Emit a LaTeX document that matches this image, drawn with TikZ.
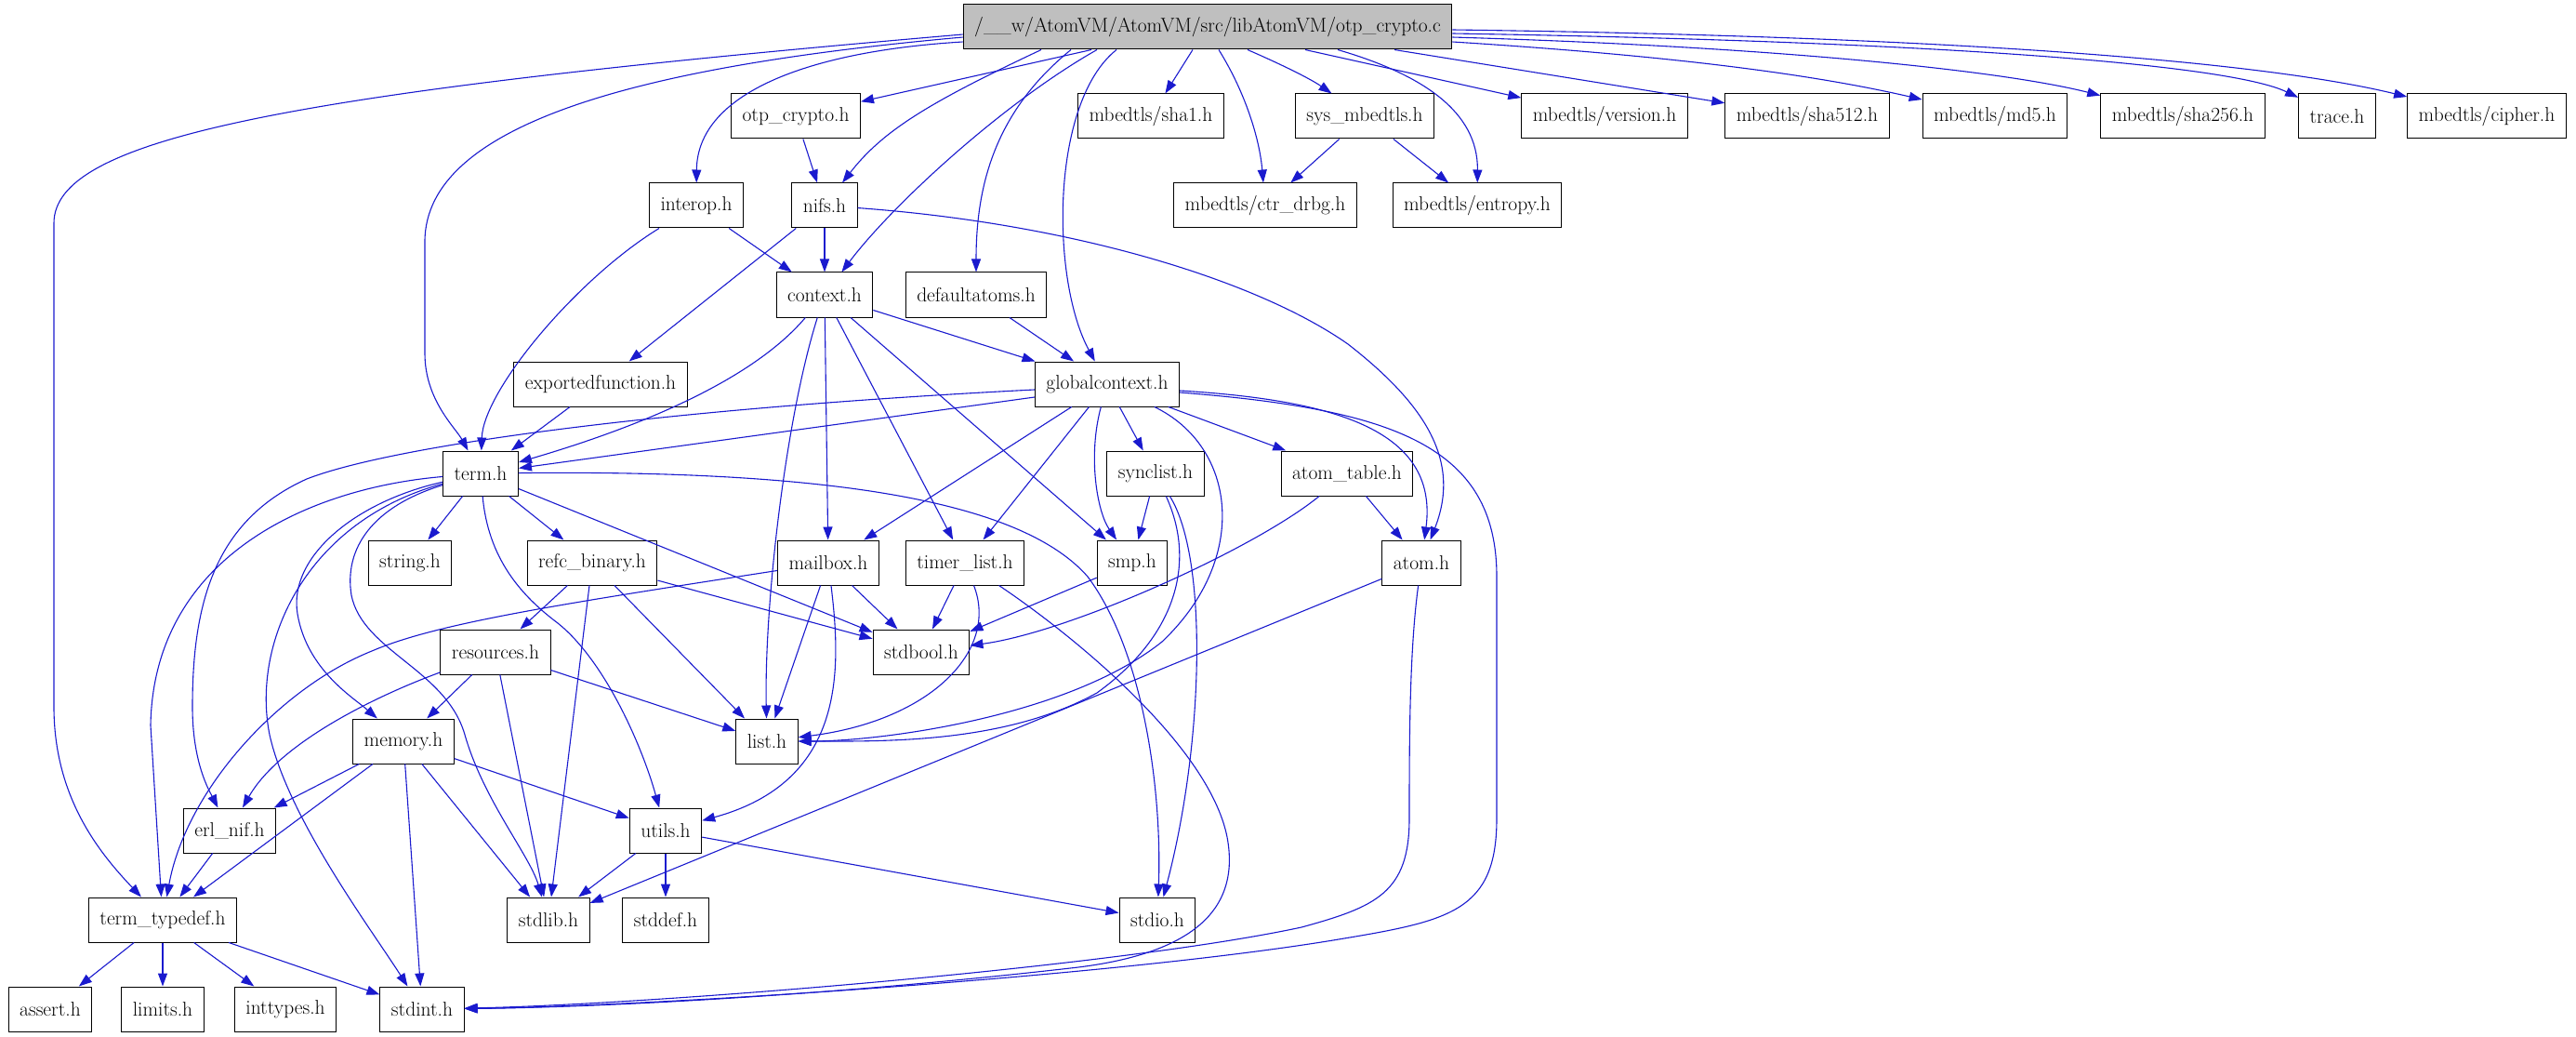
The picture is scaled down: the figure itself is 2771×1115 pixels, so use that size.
\documentclass[tikz,border=0pt]{standalone}
\usetikzlibrary{arrows.meta}
\definecolor{eb}{RGB}{26,26,206}
\begin{document}
\begin{tikzpicture}[x=1pt,y=-1pt,
  box/.style={draw=black, line width=1pt, fill=white, minimum height=48pt, inner xsep=12pt, inner ysep=0pt, font=\fontsize{21.5}{24}\selectfont},
  rootbox/.style={box, fill=black!25},
  e/.style={draw=eb, line width=1.1pt, -{Triangle[length=14pt,width=10pt]}}]
\useasboundingbox (0,0) rectangle (2771,1115);
\node[rootbox] (root) at (1299,29) {/\_\_w/AtomVM/AtomVM/src/libAtomVM/otp\_crypto.c};
\node[box] (otp) at (856,125) {otp\_crypto.h};
\node[box] (sha1) at (1238,125) {mbedtls/sha1.h};
\node[box] (sysm) at (1468,125) {sys\_mbedtls.h};
\node[box] (version) at (1726,125) {mbedtls/version.h};
\node[box] (sha512) at (1944,125) {mbedtls/sha512.h};
\node[box] (md5) at (2146,125) {mbedtls/md5.h};
\node[box] (sha256) at (2348,125) {mbedtls/sha256.h};
\node[box] (trace) at (2514,125) {trace.h};
\node[box] (cipher) at (2675,125) {mbedtls/cipher.h};
\node[box] (interop) at (749,221) {interop.h};
\node[box] (nifs) at (887,221) {nifs.h};
\node[box] (ctrdrbg) at (1361,221) {mbedtls/ctr\_drbg.h};
\node[box] (entropy) at (1589,221) {mbedtls/entropy.h};
\node[box] (context) at (887,317) {context.h};
\node[box] (defatoms) at (1050,317) {defaultatoms.h};
\node[box] (expfun) at (646,413) {exportedfunction.h};
\node[box] (gctx) at (1191,413) {globalcontext.h};
\node[box] (term) at (517,509) {term.h};
\node[box] (synclist) at (1243,509) {synclist.h};
\node[box] (atomtable) at (1449,509) {atom\_table.h};
\node[box] (stringh) at (441,605) {string.h};
\node[box] (refc) at (637,605) {refc\_binary.h};
\node[box] (mailbox) at (891,605) {mailbox.h};
\node[box] (timerlist) at (1038,605) {timer\_list.h};
\node[box] (smp) at (1218,605) {smp.h};
\node[box] (atom) at (1529,605) {atom.h};
\node[box] (resources) at (533,701) {resources.h};
\node[box] (stdbool) at (991,701) {stdbool.h};
\node[box] (memory) at (434,797) {memory.h};
\node[box] (list) at (825,797) {list.h};
\node[box] (erlnif) at (247,893) {erl\_nif.h};
\node[box] (utils) at (716,893) {utils.h};
\node[box] (termtd) at (175,989) {term\_typedef.h};
\node[box] (stdlib) at (590,989) {stdlib.h};
\node[box] (stddef) at (716,989) {stddef.h};
\node[box] (stdio) at (1245,989) {stdio.h};
\node[box] (asserth) at (54,1085) {assert.h};
\node[box] (limits) at (175,1085) {limits.h};
\node[box] (inttypes) at (307,1085) {inttypes.h};
\node[box] (stdint) at (454,1085) {stdint.h};
% root
\draw[e] ([yshift=-8]root.west) .. controls (300,100) and (58,150) .. (58,240) -- (58,760) .. controls (58,860) and (110,920) .. (termtd);
\draw[e] ([yshift=-11]root.west) .. controls (700,70) and (457,130) .. (457,260) -- (457,380) .. controls (457,430) and (490,460) .. (term);
\draw[e] ([yshift=-16]root.west) .. controls (870,55) and (750,100) .. (interop);
\draw[e] ([xshift=-125]root.south) -- (otp);
\draw[e] ([xshift=-179]root.south) .. controls (1000,110) and (950,140) .. (nifs);
\draw[e] ([xshift=-119]root.south) .. controls (1080,110) and (960,220) .. (context);
\draw[e] ([xshift=-147]root.south) .. controls (1070,120) and (1050,200) .. (defatoms);
\draw[e] ([xshift=-98]root.south) .. controls (1130,110) and (1130,300) .. (gctx);
\draw[e] ([xshift=-16]root.south) -- (sha1);
\draw[e] ([xshift=12]root.south) .. controls (1340,100) and (1355,150) .. (ctrdrbg);
\draw[e] ([xshift=43]root.south) .. controls (1380,70) and (1410,85) .. (sysm);
\draw[e] ([xshift=140]root.south) .. controls (1530,80) and (1590,120) .. (entropy);
\draw[e] ([xshift=105]root.south) -- (version);
\draw[e] ([xshift=201]root.south) -- (sha512);
\draw[e] ([yshift=-16]root.east) .. controls (1800,60) and (1950,80) .. (md5);
\draw[e] ([yshift=-11]root.east) .. controls (1900,50) and (2150,75) .. (sha256);
\draw[e] ([yshift=-7]root.east) .. controls (2100,45) and (2400,70) .. (trace);
\draw[e] ([yshift=-3]root.east) .. controls (2150,40) and (2450,70) .. (cipher);
% level 2
\draw[e] (otp) -- (nifs);
\draw[e] (interop) -- (context);
\draw[e] (interop) .. controls (620,300) and (520,420) .. (term);
\draw[e] (nifs) -- (context);
\draw[e] (nifs) -- (expfun);
\draw[e] (nifs) .. controls (1150,240) and (1350,300) .. (1450,370) .. controls (1540,440) and (1570,500) .. (atom);
\draw[e] (sysm) -- (ctrdrbg);
\draw[e] (sysm) -- (entropy);
\draw[e] (context) -- (gctx);
\draw[e] (context) .. controls (800,420) and (650,470) .. (term);
\draw[e] (context) .. controls (845,450) and (822,650) .. (list);
\draw[e] (context) -- (mailbox);
\draw[e] (context) -- (timerlist);
\draw[e] (context) -- (smp);
\draw[e] (defatoms) -- (gctx);
\draw[e] (expfun) -- (term);
% globalcontext
\draw[e] ([yshift=-14]gctx.west) -- (term);
\draw[e] ([yshift=-6]gctx.west) .. controls (700,440) and (420,480) .. (330,515) .. controls (230,560) and (207,650) .. (207,760) .. controls (207,820) and (225,850) .. (erlnif);
\draw[e] (gctx) -- (mailbox);
\draw[e] (gctx) -- (timerlist);
\draw[e] (gctx) .. controls (1170,490) and (1180,550) .. (smp);
\draw[e] (gctx) -- (synclist);
\draw[e] (gctx) -- (atomtable);
\draw[e] ([yshift=-7]gctx.east) .. controls (1430,430) and (1548,460) .. (atom);
\draw[e] ([yshift=-9]gctx.east) .. controls (1500,440) and (1610,480) .. (1610,620) -- (1610,880) .. controls (1610,980) and (1560,990) .. (1440,1010) .. controls (1200,1050) and (700,1082) .. (stdint);
\draw[e] (gctx) .. controls (1330,480) and (1345,600) .. (1250,690) .. controls (1150,770) and (950,797) .. (list);
% synclist
\draw[e] (synclist) -- (smp);
\draw[e] (synclist) .. controls (1285,600) and (1270,680) .. (1180,745) .. controls (1080,800) and (950,797) .. (list);
\draw[e] (synclist) .. controls (1300,600) and (1295,800) .. (stdio);
% atom_table, atom
\draw[e] (atomtable) -- (atom);
\draw[e] (atomtable) .. controls (1350,590) and (1150,680) .. (stdbool);
\draw[e] (atom) -- (stdlib);
\draw[e] (atom) .. controls (1516,700) and (1516,800) .. (1516,880) .. controls (1516,960) and (1480,975) .. (1400,997) .. controls (1200,1040) and (700,1080) .. (stdint);
% timer_list
\draw[e] (timerlist) -- (stdbool);
\draw[e] (timerlist) .. controls (1075,700) and (1000,775) .. (list);
\draw[e] (timerlist) .. controls (1150,680) and (1300,800) .. (1320,900) .. controls (1335,980) and (1280,1025) .. (1160,1040) .. controls (900,1070) and (650,1083) .. (stdint);
% term
\draw[e] (term) -- (stringh);
\draw[e] (term) -- (refc);
\draw[e] (term) -- (stdbool);
\draw[e] (term) .. controls (900,505) and (1100,540) .. (1170,620) .. controls (1230,700) and (1250,850) .. (stdio);
\draw[e] (term) .. controls (330,525) and (165,600) .. (162,780) -- (termtd);
\draw[e] (term) .. controls (380,540) and (310,600) .. (320,660) .. controls (330,720) and (380,750) .. (memory);
\draw[e] (term) .. controls (330,560) and (270,690) .. (290,790) .. controls (310,880) and (400,1000) .. (stdint);
\draw[e] (term) .. controls (400,545) and (370,590) .. (378,640) .. controls (390,700) and (480,720) .. (500,790) .. controls (520,860) and (570,920) .. (stdlib);
\draw[e] (term) .. controls (525,600) and (560,640) .. (600,670) .. controls (650,710) and (690,800) .. (utils);
% refc, resources
\draw[e] (refc) -- (resources);
\draw[e] (refc) -- (stdbool);
\draw[e] (refc) -- (stdlib);
\draw[e] (refc) -- (list);
\draw[e] (resources) -- (memory);
\draw[e] (resources) .. controls (400,750) and (300,800) .. (erlnif);
\draw[e] (resources) -- (stdlib);
\draw[e] (resources) -- (list);
% mailbox, smp
\draw[e] (mailbox) .. controls (600,650) and (470,670) .. (400,700) .. controls (300,740) and (200,850) .. (termtd);
\draw[e] (mailbox) -- (list);
\draw[e] (mailbox) .. controls (905,720) and (910,840) .. (utils);
\draw[e] (mailbox) -- (stdbool);
\draw[e] (smp) -- (stdbool);
% memory, erl_nif, utils, term_typedef
\draw[e] (memory) -- (erlnif);
\draw[e] (memory) -- (termtd);
\draw[e] (memory) -- (stdint);
\draw[e] (memory) -- (stdlib);
\draw[e] (memory) -- (utils);
\draw[e] (erlnif) -- (termtd);
\draw[e] (utils) -- (stdlib);
\draw[e] (utils) -- (stddef);
\draw[e] (utils) -- (stdio);
\draw[e] (termtd) -- (asserth);
\draw[e] (termtd) -- (limits);
\draw[e] (termtd) -- (inttypes);
\draw[e] (termtd) -- (stdint);
\end{tikzpicture}
\end{document}
